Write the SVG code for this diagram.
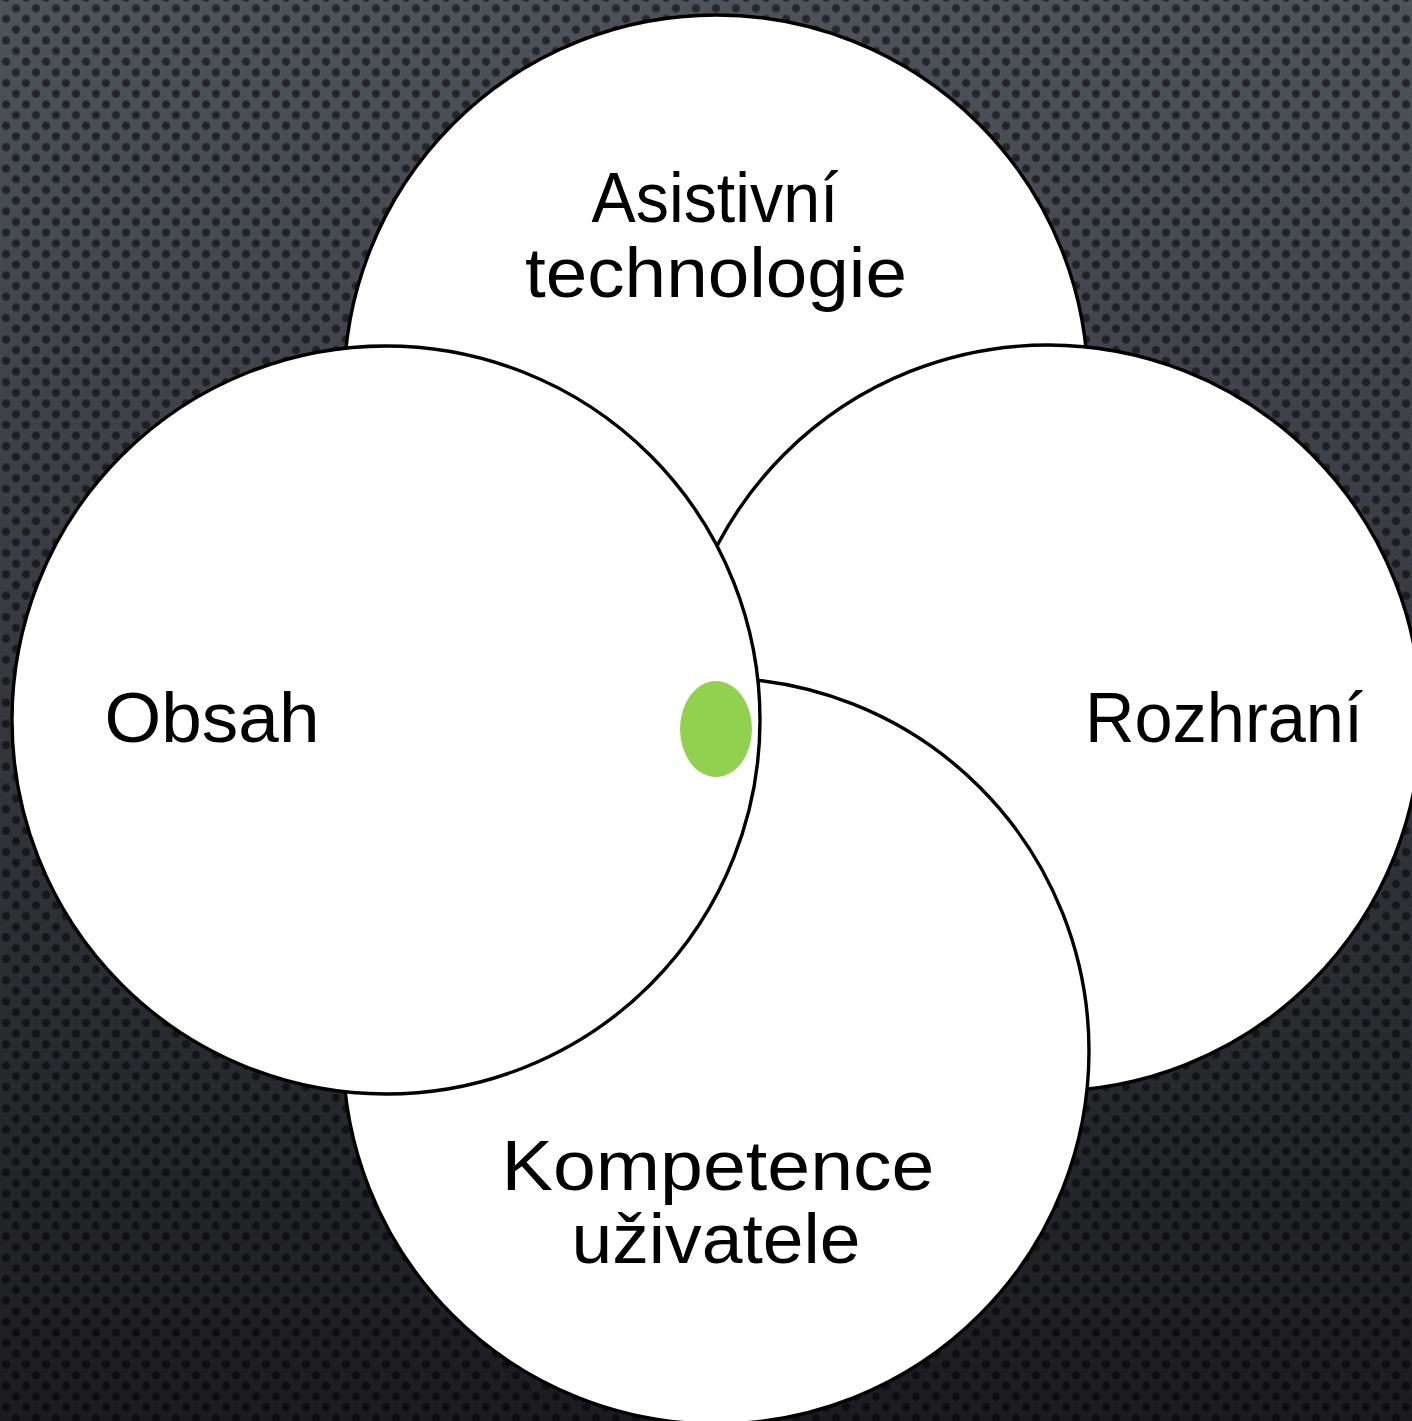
<svg xmlns="http://www.w3.org/2000/svg" width="1412" height="1421" viewBox="0 0 1412 1421">
  <defs>
    <linearGradient id="bg" x1="0" y1="0" x2="0" y2="1">
      <stop offset="0" stop-color="#4e535a"/>
      <stop offset="0.5" stop-color="#34373c"/>
      <stop offset="1" stop-color="#1c1c20"/>
    </linearGradient>
    <radialGradient id="dotg">
      <stop offset="0" stop-color="#000" stop-opacity="0.55"/>
      <stop offset="0.7" stop-color="#000" stop-opacity="0.5"/>
      <stop offset="1" stop-color="#000" stop-opacity="0"/>
    </radialGradient>
    <pattern id="dots" patternUnits="userSpaceOnUse" x="0" y="0" width="20" height="21.36">
      <circle cx="16" cy="8.3" r="4.9" fill="url(#dotg)"/>
      <circle cx="6" cy="18.98" r="4.9" fill="url(#dotg)"/>
      <circle cx="6" cy="-2.38" r="4.9" fill="url(#dotg)"/>
    </pattern>
    <style>
      .c { fill: #ffffff; stroke: #000000; stroke-width: 3.4; }
      .t { font-family: "Liberation Sans", Arial, sans-serif; font-size: 70px; fill: #000000; text-anchor: middle; }
    </style>
  </defs>
  <rect x="0" y="0" width="1412" height="1421" fill="url(#bg)"/>
  <rect x="0" y="0" width="1412" height="1421" fill="url(#dots)"/>

  <g id="node-asistivni">
    <circle class="c" cx="716" cy="387" r="372"/>
    <text class="t" x="715" y="222" textLength="247" lengthAdjust="spacingAndGlyphs">Asistivní</text>
    <text class="t" x="716" y="297" textLength="382" lengthAdjust="spacingAndGlyphs">technologie</text>
  </g>
  <g id="node-rozhrani">
    <circle class="c" cx="1048" cy="718" r="373"/>
    <text class="t" x="1224" y="742" textLength="278" lengthAdjust="spacingAndGlyphs">Rozhraní</text>
  </g>
  <g id="node-kompetence">
    <circle class="c" cx="716" cy="1051" r="373"/>
    <text class="t" x="718" y="1190" textLength="433" lengthAdjust="spacingAndGlyphs">Kompetence</text>
    <text class="t" x="716" y="1263" textLength="289" lengthAdjust="spacingAndGlyphs">uživatele</text>
  </g>
  <g id="node-obsah">
    <circle class="c" cx="386" cy="720" r="374"/>
    <text class="t" x="212" y="742" textLength="215" lengthAdjust="spacingAndGlyphs">Obsah</text>
  </g>
  <g id="node-center">
    <ellipse cx="716" cy="729" rx="36" ry="48" fill="#92d050"/>
  </g>
  <g id="connectors"/>
</svg>
